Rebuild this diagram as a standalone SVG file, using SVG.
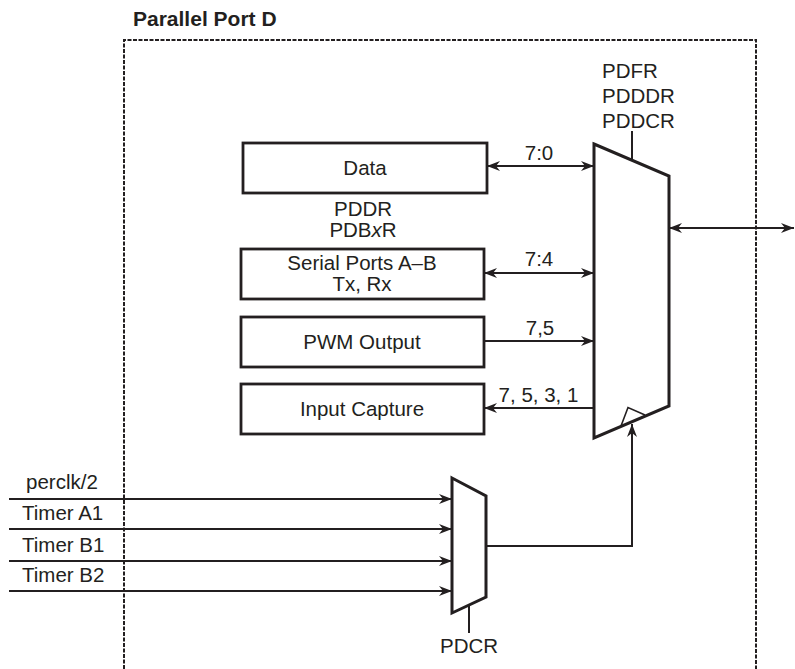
<svg xmlns="http://www.w3.org/2000/svg" width="795" height="669" viewBox="0 0 795 669">
<defs>
<style>
.t{font-family:"Liberation Sans",Arial,sans-serif;font-size:20.5px;fill:#231f20}
.c{text-anchor:middle}
.box{fill:#fff;stroke:#231f20;stroke-width:2.8}
.mux{fill:#fff;stroke:#231f20;stroke-width:3;stroke-linejoin:miter}
.ln{fill:none;stroke:#231f20;stroke-width:2}
.dash{fill:none;stroke:#231f20;stroke-width:2;stroke-dasharray:4 1.5}
</style>
<marker id="ah" viewBox="0 0 13 10" refX="13" refY="5" markerWidth="13" markerHeight="10" markerUnits="userSpaceOnUse" orient="auto-start-reverse">
<path d="M0,0 L13,5 L0,10 L4,5 z" fill="#231f20"/>
</marker>
</defs>
<rect width="795" height="669" fill="#fff"/>
<g id="frame">
<path class="dash" d="M124,669 V40 H756 V669"/>
<text class="t" x="133" y="26" style="font-weight:bold;font-size:21px">Parallel Port D</text>
</g>
<g id="connectors">
<line class="ln" x1="487" y1="166" x2="594" y2="166" marker-start="url(#ah)" marker-end="url(#ah)"/>
<line class="ln" x1="484" y1="273" x2="594" y2="273" marker-start="url(#ah)" marker-end="url(#ah)"/>
<line class="ln" x1="484" y1="341" x2="594" y2="341" marker-end="url(#ah)"/>
<line class="ln" x1="594" y1="408" x2="484" y2="408" marker-end="url(#ah)"/>
<line class="ln" x1="669" y1="228" x2="794" y2="228" marker-start="url(#ah)" marker-end="url(#ah)"/>
<line class="ln" x1="9" y1="499" x2="452" y2="499" marker-end="url(#ah)"/>
<line class="ln" x1="9" y1="529" x2="452" y2="529" marker-end="url(#ah)"/>
<line class="ln" x1="9" y1="561" x2="452" y2="561" marker-end="url(#ah)"/>
<line class="ln" x1="9" y1="591" x2="452" y2="591" marker-end="url(#ah)"/>
<polyline class="ln" points="486,546 632,546 632,424" marker-end="url(#ah)"/>
<line class="ln" x1="632" y1="131" x2="632" y2="160"/>
<line class="ln" x1="469" y1="605" x2="469" y2="633"/>
<text class="t c" x="539" y="160">7:0</text>
<text class="t c" x="539" y="266">7:4</text>
<text class="t c" x="540" y="335">7,5</text>
<text class="t c" x="538.5" y="402">7, 5, 3, 1</text>
<text class="t" x="26" y="489">perclk/2</text>
<text class="t" x="22" y="520">Timer A1</text>
<text class="t" x="22" y="552">Timer B1</text>
<text class="t" x="22" y="582">Timer B2</text>
</g>
<g id="data">
<rect class="box" x="243" y="143" width="244" height="50"/>
<text class="t c" x="365" y="175">Data</text>
</g>
<g id="pddr-label">
<text class="t c" x="363" y="216">PDDR</text>
<text class="t c" x="363" y="237">PDB<tspan font-style="italic">x</tspan>R</text>
</g>
<g id="serial">
<rect class="box" x="241" y="249" width="243" height="50"/>
<text class="t c" x="362" y="270">Serial Ports A–B</text>
<text class="t c" x="362" y="291">Tx, Rx</text>
</g>
<g id="pwm">
<rect class="box" x="241" y="317" width="243" height="50"/>
<text class="t c" x="362" y="349">PWM Output</text>
</g>
<g id="input-capture">
<rect class="box" x="241" y="384" width="243" height="50"/>
<text class="t c" x="362" y="416">Input Capture</text>
</g>
<g id="mux-main">
<polygon class="mux" points="594,144 669,176 669,406 594,438"/>
<polyline class="ln" style="stroke-width:1.6" points="621,426 628,407.5 645,415"/>
<text class="t" x="602" y="78">PDFR</text>
<text class="t" x="602" y="103">PDDDR</text>
<text class="t" x="602" y="128">PDDCR</text>
</g>
<g id="mux-clock">
<polygon class="mux" points="452,478 486,496 486,597 452,613"/>
<text class="t c" x="469" y="653">PDCR</text>
</g>
</svg>
